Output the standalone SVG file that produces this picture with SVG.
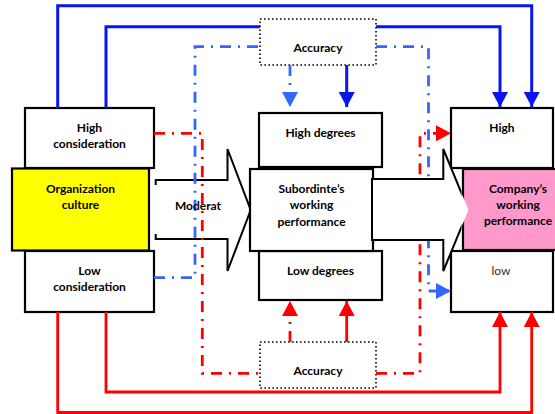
<svg xmlns="http://www.w3.org/2000/svg" width="555" height="414" viewBox="0 0 555 414">
<style>
.box{fill:#fff;stroke:#000;stroke-width:2.2}
.dot{fill:#fff;stroke:#000;stroke-width:1.6;stroke-dasharray:1.6 2.4}
.t{font-family:Lato,"Liberation Sans",sans-serif;font-weight:bold;font-size:12px;fill:#000;text-anchor:middle}
.bs{fill:none;stroke:#0A14F0;stroke-width:3}
.bd{fill:none;stroke:#3366FF;stroke-width:2.8;stroke-dasharray:11 7 2 7}
.rs{fill:none;stroke:#FF0000;stroke-width:2.8}
.rd{fill:none;stroke:#FF0000;stroke-width:2.8;stroke-dasharray:11 7 2 7}
.arr{fill:none;stroke:#000;stroke-width:2}
</style>
<defs>
<marker id="mB" markerUnits="userSpaceOnUse" markerWidth="16" markerHeight="16" refX="15" refY="8" orient="auto"><path d="M0,0 L15,8 L0,16 z" fill="#0A14F0"/></marker>
<marker id="mLB" markerUnits="userSpaceOnUse" markerWidth="16" markerHeight="16" refX="15" refY="8" orient="auto"><path d="M0,0 L15,8 L0,16 z" fill="#3366FF"/></marker>
<marker id="mR" markerUnits="userSpaceOnUse" markerWidth="16" markerHeight="16" refX="15" refY="8" orient="auto"><path d="M0,0 L15,8 L0,16 z" fill="#FF0000"/></marker>
<clipPath id="leftOfPink"><rect x="0" y="0" width="461.5" height="414"/></clipPath>
</defs>

<!-- left boxes -->
<g id="high-consideration"><rect class="box" x="25" y="108" width="129" height="60"/><text class="t" x="89.5" y="132">High</text><text class="t" x="89.5" y="148">consideration</text></g>
<g id="low-consideration"><rect class="box" x="25" y="251" width="129" height="61"/><text class="t" x="89.5" y="275">Low</text><text class="t" x="89.5" y="291">consideration</text></g>
<g id="organization-culture"><rect x="12" y="168.5" width="137" height="82" fill="#FFFF00" stroke="#000" stroke-width="2.2"/><text class="t" x="80.5" y="193">Organization</text><text class="t" x="80.5" y="209">culture</text></g>

<!-- Moderat arrow shape -->
<g id="moderat-arrow">
<path d="M155.7,180 H227.5 V149 L250.7,210 L227.5,271 V239 H155.7 Z" fill="#fff"/>
<path class="arr" d="M155.7,185 V180 H227.5 V149 L250.7,210 L227.5,271 V239 H155.7 V234"/>
</g>

<!-- middle boxes -->
<g id="high-degrees"><rect class="box" x="259" y="113" width="123" height="54"/><text class="t" x="320.5" y="137">High degrees</text></g>
<g id="low-degrees"><rect class="box" x="259" y="251" width="123" height="49"/><text class="t" x="320.5" y="275">Low degrees</text></g>
<g id="subordinate-performance"><rect class="box" x="250" y="169" width="123" height="82"/><text class="t" x="311.5" y="193">Subordinte’s</text><text class="t" x="311.5" y="209">working</text><text class="t" x="311.5" y="226">performance</text></g>

<!-- accuracy boxes -->
<g id="accuracy-top"><rect class="dot" x="260" y="19" width="116" height="46"/><text class="t" x="318" y="52">Accuracy</text></g>
<g id="accuracy-bottom"><rect class="dot" x="260" y="342" width="116" height="46"/><text class="t" x="318" y="375">Accuracy</text></g>

<!-- right boxes -->
<g id="high"><rect class="box" x="451" y="108" width="102" height="60"/><text class="t" x="502" y="132">High</text></g>
<g id="low"><rect class="box" x="451" y="251" width="102" height="61"/><text x="501" y="275" font-family="Lato,'Liberation Sans',sans-serif" font-size="12" fill="#333" text-anchor="middle">low</text></g>

<!-- connectors -->
<g id="connectors">
<path class="bs" d="M57.7,108 V5.7 H531.7 V107" marker-end="url(#mB)"/>
<path class="bs" d="M106,108 V26.7 H260"/>
<path class="bs" d="M376,26.7 H500 V107" marker-end="url(#mB)"/>
<path class="bs" d="M346.7,65 V107" marker-end="url(#mB)"/>
<path class="bd" d="M290,65 V107" marker-end="url(#mLB)"/>
<path class="bd" d="M154,277.7 H195 V46.7 H260"/>
<path class="bd" d="M376,46.7 H428.5 V291 H451" marker-end="url(#mLB)"/>
<path class="rd" d="M154,133.3 H202.3 V373.3 H260"/>
<path class="rd" d="M376,373.3 H420 V133.3 H451" marker-end="url(#mR)"/>
<path class="rd" d="M290,342 V301" marker-end="url(#mR)"/>
<path class="rs" d="M346.7,342 V301" marker-end="url(#mR)"/>
<path class="rs" d="M106,312 V392 H500 V312" marker-end="url(#mR)"/>
<path class="rs" d="M57.7,312 V412.5 H531.7 V312" marker-end="url(#mR)"/>
</g>

<!-- Moderat label -->
<g id="moderat-label"><text class="t" x="198" y="210">Moderat</text></g>

<!-- company's working performance -->
<g id="company-performance"><rect x="463" y="169" width="110" height="81" fill="#FF99CC" stroke="#000" stroke-width="2.2"/><text class="t" x="518" y="193">Company’s</text><text class="t" x="518" y="209">working</text><text class="t" x="518" y="225">performance</text></g>

<!-- right arrow -->
<g id="right-arrow">
<path d="M372,179 H443.3 V149 L468.5,210 L443.3,271 V240 H372 Z" fill="#fff"/>
<path class="arr" clip-path="url(#leftOfPink)" d="M372,179 H443.3 V149 L468.5,210 L443.3,271 V240 H372 Z"/>
</g>
</svg>
